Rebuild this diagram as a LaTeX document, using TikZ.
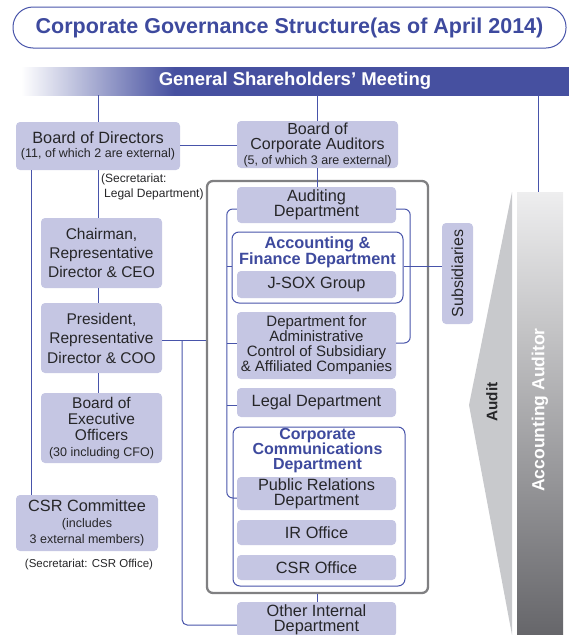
\documentclass[tikz,border=0pt]{standalone}
\usepackage{fontspec}
\setmainfont{Liberation Sans}
\usetikzlibrary{positioning,calc}

\definecolor{lav}{RGB}{197,198,227}
\definecolor{lnblue}{RGB}{72,84,170}
\definecolor{hdblue}{RGB}{62,74,158}
\definecolor{bannerblue}{RGB}{70,80,160}
\definecolor{ink}{RGB}{38,38,40}
\definecolor{boxgray}{RGB}{128,128,130}
\definecolor{trigray}{RGB}{200,201,204}

% the path's box spans 25bp to 75bp of the shading
\pgfdeclarehorizontalshading{bannerfade}{100bp}{color(0bp)=(white); color(25bp)=(white); color(39bp)=(bannerblue); color(100bp)=(bannerblue)}

\newcommand\fs[2]{\fontsize{#1}{#2}\selectfont}

\tikzset{
  unit/.style={fill=lav, rounded corners=4pt, align=center, inner sep=0pt, text=ink},
  frame/.style={draw=lnblue, line width=1pt, rounded corners=7pt, fill=white, inner sep=0pt},
  link/.style={draw=lnblue, line width=1pt},
}

\begin{document}
\begin{tikzpicture}[x=1pt, y=-1pt]
  \useasboundingbox (0,0) rectangle (569,635);
  % title
  \node[draw=lnblue, line width=1pt, rounded corners=20pt, minimum width=553, minimum height=41,
        inner sep=0pt, text=hdblue, font=\bfseries\fs{21.5}{24}] (title) at (289.5,27.5)
        {Corporate Governance Structure(as of April 2014)};
  % shareholders banner
  \node[shading=bannerfade, minimum width=548, minimum height=28, inner sep=0pt, text=white,
        font=\bfseries\fs{18.5}{20}] (gsm) at (295,81) {General Shareholders' Meeting};

  % left column
  \node[unit, minimum width=164, minimum height=48, font=\fs{16.3}{14}] (bod) at (98,146)
        {Board of Directors\\\fs{12.5}{14}(11, of which 2 are external)};
  \node[unit, minimum width=161, minimum height=47, font=\fs{16}{15}] (bca) at (317.5,144.5)
        {Board of\\Corporate Auditors\\\fs{12.5}{14}(5, of which 3 are external)};
  \node[anchor=north west, align=left, inner sep=0pt, text=ink, font=\fs{12}{15}] (legsec) at (101,174)
        {(Secretariat:\\\hspace{3pt}Legal Department)};
  \node[unit, minimum width=121, minimum height=70, font=\fs{15.5}{19}] (chair) at (101.5,253)
        {Chairman,\\Representative\\Director \& CEO};
  \node[unit, minimum width=121, minimum height=70, font=\fs{15.5}{19.5}] (pres) at (101.5,338)
        {President,\\Representative\\Director \& COO};
  \node[unit, minimum width=121, minimum height=70, font=\fs{15.5}{16}] (beo) at (101.5,428)
        {Board of\\Executive\\Officers\\\fs{12.5}{16}(30 including CFO)};
  \node[unit, minimum width=142, minimum height=56, font=\fs{16.3}{16}] (csr) at (87,523)
        {CSR Committee\\\fs{12.5}{16}(includes\\\fs{12.5}{16}3 external members)};
  \node[text=ink, inner sep=0pt, font=\fs{11.5}{13}] (csrsec) at (89,565) {(Secretariat: CSR Office)};

  % internal departments
  \node[draw=boxgray, line width=2.3pt, rounded corners=6pt, minimum width=221, minimum height=412,
        inner sep=0pt] (grp) at (317.5,387) {};
  \node[unit, minimum width=159, minimum height=36, font=\fs{16.3}{15}] (aud) at (316.5,205)
        {Auditing\\Department};
  \node[frame, minimum width=171, minimum height=71] (acc) at (317.5,267.5) {};
  \node[align=center, inner sep=0pt, text=hdblue, font=\bfseries\fs{16.3}{15}] (acct) at (317.5,252)
        {Accounting \&\\Finance Department};
  \node[unit, minimum width=159, minimum height=27, font=\fs{16.3}{15}] (jsox) at (316.5,284.5) {J-SOX Group};
  \node[unit, minimum width=159, minimum height=67, font=\fs{15}{15}] (adm) at (316.5,345.5)
        {Department for\\Administrative\\Control of Subsidiary\\\& Affiliated Companies};
  \node[unit, minimum width=159, minimum height=29, font=\fs{16.3}{15}] (legal) at (316.5,402.5) {Legal Department};
  \node[frame, minimum width=172, minimum height=159] (cc) at (319,506.5) {};
  \node[align=center, inner sep=0pt, text=hdblue, font=\bfseries\fs{16}{15}] (cct) at (317.5,451)
        {Corporate\\Communications\\Department};
  \node[unit, minimum width=159, minimum height=33, font=\fs{16.3}{15}] (pr) at (316.5,493.5)
        {Public Relations\\Department};
  \node[unit, minimum width=159, minimum height=25, font=\fs{16.3}{15}] (ir) at (316.5,532.5) {IR Office};
  \node[unit, minimum width=159, minimum height=25, font=\fs{16.3}{15}] (csro) at (316.5,567.5) {CSR Office};
  \node[unit, minimum width=159, minimum height=35, font=\fs{16.3}{15}] (other) at (316.5,619.5)
        {Other Internal\\Department};
  \node[unit, minimum width=31, minimum height=101, font=\fs{16}{16}] (sub) at (457.5,273.5)
        {\rotatebox{90}{Subsidiaries}};

  % audit wedge and accounting auditor
  \fill[trigray] (512,192) -- (469,405) -- (512,635) -- cycle;
  \node[rotate=90, inner sep=0pt, text=ink, font=\bfseries\fs{15.3}{16}] (audit) at (492,402) {Audit};
  \node[top color={rgb,255:red,238;green,238;blue,239}, bottom color={rgb,255:red,102;green,102;blue,106},
        minimum width=46, minimum height=443, inner sep=0pt] (aa) at (540,413.5) {};
  \node[rotate=90, inner sep=0pt, text=white, font=\bfseries\fs{17.5}{18}] (aat) at (540,410) {Accounting Auditor};

  % connectors
  \draw[link] (gsm.south -| bod.north) -- (bod.north);
  \draw[link] (gsm.south -| bca.north) -- (bca.north);
  \draw[link] ([xshift=-2pt]gsm.south -| aa.north) -- ([xshift=-2pt]aa.north);
  \draw[link] ([yshift=1pt]bod.east) -- ([yshift=1pt]bod.east -| bca.west);
  \draw[link] (bod.south) -- (bod.south |- chair.north);
  \draw[link] (bod.south |- chair.south) -- (bod.south |- pres.north);
  \draw[link] (bod.south |- pres.south) -- (bod.south |- beo.north);
  \draw[link] ([xshift=-67pt]bod.south) -- ([xshift=-67pt]bod.south |- csr.north);
  \draw[link] ([yshift=-2pt]pres.east) -- ([yshift=-2pt]pres.east -| grp.west);
  \draw[link, rounded corners=5pt] ([xshift=20pt,yshift=-2pt]pres.east) |- ([yshift=-5.5pt]other.west);
  \draw[link] (bca.south) -- (bca.south |- aud.north);
  \draw[link] (grp.south) -- (grp.south |- other.north);
  \draw[link] ([yshift=1.5pt]acc.east) -- ([yshift=1.5pt]acc.east -| sub.west);
  \draw[link, rounded corners=6pt] ([yshift=-4pt]aud.west) -- ++(-10,0) |- ([yshift=-4.5pt]pr.west);
  \draw[link, rounded corners=6pt] ([yshift=-4pt]aud.east) -- ++(14,0) |- ([yshift=2.5pt]adm.east);
  \draw[link] ([yshift=1.5pt]acc.west) -- ++(-5,0);
  \draw[link] ([yshift=2.5pt]adm.west) -- ++(-10,0);
  \draw[link] ([yshift=-2.5pt]legal.west) -- ++(-10,0);
\end{tikzpicture}
\end{document}
